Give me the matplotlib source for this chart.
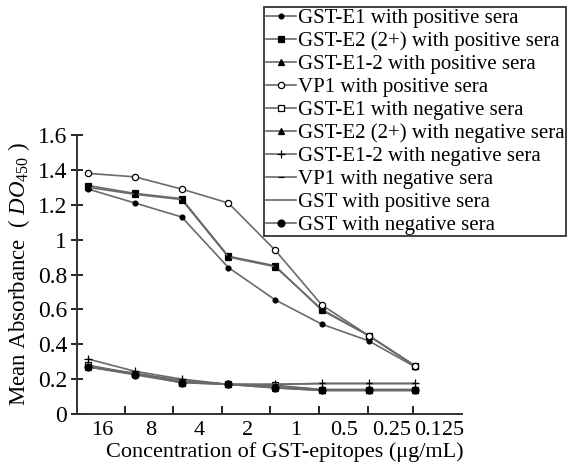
import matplotlib
matplotlib.use("Agg")
import matplotlib.pyplot as plt
import numpy as np

plt.rcParams['font.family'] = ['Liberation Serif', 'Noto Sans CJK SC']
plt.rcParams['mathtext.fontset'] = 'custom'
plt.rcParams['mathtext.rm'] = 'Liberation Serif'
plt.rcParams['mathtext.it'] = 'Liberation Serif:italic'

# concentrations (ug/mL), two-fold dilutions
conc_labels = ['16', '8', '4', '2', '1', '0.5', '0.25', '0.125']

e1_pos = [1.29, 1.21, 1.13, 0.84, 0.655, 0.515, 0.42, 0.27]
e2_pos = [1.31, 1.265, 1.235, 0.905, 0.85, 0.595, 0.45, 0.275]
e12_pos = [1.30, 1.26, 1.23, 0.90, 0.845, 0.60, 0.45, 0.275]
vp1_pos = [1.38, 1.36, 1.29, 1.21, 0.94, 0.625, 0.45, 0.275]
e1_neg = [0.28, 0.23, 0.18, 0.17, 0.165, 0.14, 0.14, 0.14]
e2_neg = [0.27, 0.23, 0.19, 0.17, 0.15, 0.135, 0.135, 0.135]
e12_neg = [0.315, 0.245, 0.20, 0.17, 0.17, 0.175, 0.175, 0.175]
vp1_neg = [0.27, 0.235, 0.19, 0.17, 0.17, 0.175, 0.175, 0.175]
gst_pos = [0.275, 0.23, 0.19, 0.17, 0.16, 0.14, 0.14, 0.14]
gst_neg = [0.27, 0.225, 0.18, 0.17, 0.15, 0.135, 0.135, 0.135]

series = [
    ('GST-E1 with positive sera', e1_pos, 'o', 'k', 3.5),
    ('GST-E2 (2+) with positive sera', e2_pos, 's', 'k', 5),
    ('GST-E1-2 with positive sera', e12_pos, '^', 'k', 5),
    ('VP1 with positive sera', vp1_pos, 'o', 'w', 4.5),
    ('GST-E1 with negative sera', e1_neg, 's', 'w', 5),
    ('GST-E2 (2+) with negative sera', e2_neg, '^', 'k', 5),
    ('GST-E1-2 with negative sera', e12_neg, '+', 'k', 6),
    ('VP1 with negative sera', vp1_neg, '_', 'k', 4),
    ('GST with positive sera', gst_pos, 'None', 'k', 4),
    ('GST with negative sera', gst_neg, 'o', 'k', 5),
]

x = np.arange(len(conc_labels))

fig = plt.figure(figsize=(5.82, 4.68), dpi=100)
ax = fig.add_axes([0.1323, 0.1154, 0.6615, 0.5961])

for label, vals, marker, face, size in series:
    ax.plot(x, vals, color='#6a6a6a', linewidth=1.2, marker=marker,
            markersize=size, markerfacecolor=face, markeredgecolor='k',
            markeredgewidth=0.9, label=label)

# category boundaries carry the ticks, labels sit between them
bounds = np.array([-0.24, 0.79, 1.82, 2.87, 3.90, 4.93, 5.98, 6.96, 8.0])
ax.set_xlim(bounds[0], bounds[-1])
ax.set_xticks(bounds[1:-1])
ax.set_xticklabels([])
ax.set_xticks((bounds[:-1] + bounds[1:]) / 2 + 0.03, labels=conc_labels,
              minor=True)
ax.tick_params(axis='x', which='major', direction='in', length=6,
               width=1.2)
ax.tick_params(axis='x', which='minor', length=0, labelsize=16, pad=5)

ax.set_ylim(0, 1.6)
ax.set_yticks(np.arange(0, 1.61, 0.2),
              labels=['0', '0.2', '0.4', '0.6', '0.8', '1', '1.2', '1.4',
                      '1.6'])
ax.tick_params(axis='y', direction='inout', length=8, width=1.2,
               labelsize=17, pad=3)

for side in ('top', 'right'):
    ax.spines[side].set_visible(False)
for side in ('left', 'bottom'):
    ax.spines[side].set_linewidth(1.4)
    ax.spines[side].set_color('#333333')

ax.set_ylabel('Mean Absorbance  ( $\\mathit{DO}_{450}$ )', fontsize=16.5,
              labelpad=4)
ax.set_xlabel('Concentration of GST-epitopes (μg/mL)', fontsize=16,
              labelpad=2)
ax.xaxis.set_label_coords(0.54, -0.1)

leg = fig.legend(loc='upper left', bbox_to_anchor=(264 / 582, 1 - 7 / 468),
                 fontsize=15, handlelength=1.45, handletextpad=0.1,
                 labelspacing=0.16, borderpad=0.08, borderaxespad=0,
                 frameon=True, fancybox=False, edgecolor='k')
leg.get_frame().set_linewidth(1.3)

fig.savefig('out.png', dpi=100)
